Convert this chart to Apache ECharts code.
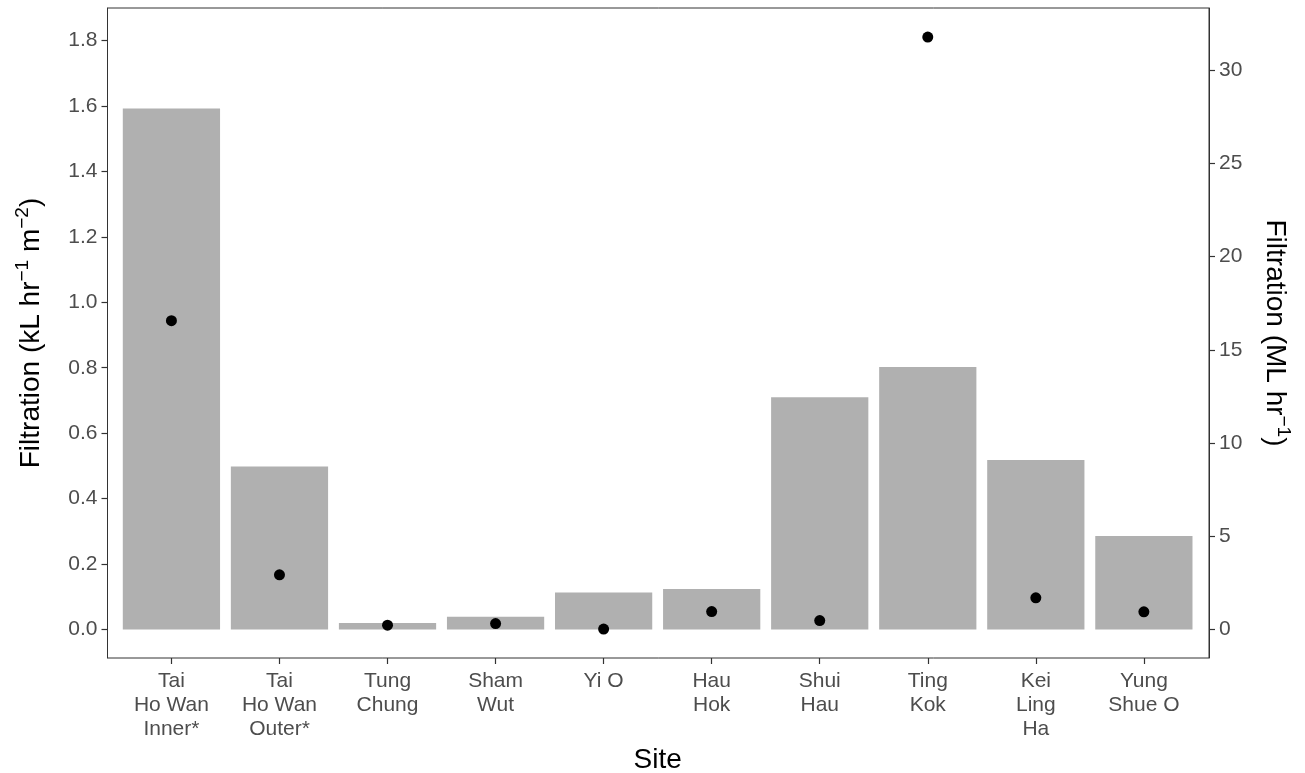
<!DOCTYPE html>
<html>
<head>
<meta charset="utf-8">
<title>Filtration by site</title>
<script src="https://cdn.jsdelivr.net/npm/echarts@6/dist/echarts.min.js"></script>
<style>
  html, body { margin: 0; padding: 0; background: #ffffff; }
  #chart { width: 1305px; height: 773px; }
</style>
</head>
<body>
<div id="chart"></div>
<script>
// Sites along the x axis (line breaks as printed under each tick)
const sites = [
  'Tai\nHo Wan\nInner*', 'Tai\nHo Wan\nOuter*', 'Tung\nChung', 'Sham\nWut', 'Yi O',
  'Hau\nHok', 'Shui\nHau', 'Ting\nKok', 'Kei\nLing\nHa', 'Yung\nShue O'
];
// Area-specific filtration, kL hr^-1 m^-2 (bars, left axis)
const areaFiltration = [1.592, 0.498, 0.020, 0.039, 0.113, 0.124, 0.710, 0.802, 0.518, 0.286];
// Total filtration, ML hr^-1 (points, right axis)
const totalFiltration = [16.56, 2.93, 0.23, 0.32, 0.02, 0.96, 0.48, 31.77, 1.70, 0.95];
// Tick labels
const leftTicks = [0, 0.2, 0.4, 0.6, 0.8, 1.0, 1.2, 1.4, 1.6, 1.8];
const rightTicks = [0, 5, 10, 15, 20, 25, 30];

// Secondary axis is a fixed multiple of the primary one
const SCALE = 17.55;
const leftMin = -0.0871, leftMax = 1.8992;

const FONT = "'Liberation Sans', Arial, Helvetica, sans-serif";
const tickColor = '#4d4d4d';
const lineColor = '#333333';

const chart = echarts.init(document.getElementById('chart'), null, { renderer: 'canvas' });

const supRich = {
  t: { fontSize: 28, lineHeight: 36, color: '#000', fontFamily: FONT, verticalAlign: 'middle' },
  s: { fontSize: 19, lineHeight: 19, color: '#000', fontFamily: FONT, verticalAlign: 'top' }
};

chart.setOption({
  animation: false,
  backgroundColor: '#ffffff',
  textStyle: { fontFamily: FONT },
  grid: [
    // panel frame
    { left: 107.5, top: 8, width: 1101.5, height: 650, show: true, containLabel: false,
      outerBoundsMode: 'none',
      borderColor: lineColor, borderWidth: 1, backgroundColor: 'transparent', z: 10 },
    // data area: categories padded by 0.6 of a band on each side
    { left: 117.4, top: 8, width: 1080.5, height: 650, containLabel: false, outerBoundsMode: 'none' }
  ],
  xAxis: [
    { gridIndex: 0, type: 'value', min: 0, max: 1, show: false },
    {
      gridIndex: 1, type: 'category', data: sites, boundaryGap: true, position: 'bottom',
      axisLine: { show: false, onZero: false },
      axisTick: { show: true, alignWithLabel: true, length: 6, lineStyle: { color: lineColor, width: 1.2 } },
      axisLabel: { interval: 0, fontSize: 21, lineHeight: 24.2, color: tickColor, margin: 11, fontFamily: FONT },
      name: 'Site', nameLocation: 'middle', nameGap: 86,
      nameTextStyle: { fontSize: 28, color: '#000', fontFamily: FONT }
    }
  ],
  yAxis: [
    { gridIndex: 0, type: 'value', min: 0, max: 1, show: false },
    {
      gridIndex: 1, type: 'value', position: 'left', offset: 9.9,
      min: leftMin, max: leftMax,
      axisLine: { show: true, lineStyle: { color: lineColor, width: 1 } },
      axisTick: { show: true, length: 6, customValues: leftTicks, lineStyle: { color: lineColor, width: 1.2 } },
      axisLabel: { customValues: leftTicks, fontSize: 21, color: tickColor, margin: 10, fontFamily: FONT,
                   formatter: v => v.toFixed(1) },
      splitLine: { show: false },
      name: '{t|Filtration (kL hr}{s|−1}{t| m}{s|−2}{t|)}',
      nameLocation: 'middle', nameRotate: 90, nameGap: 58,
      nameTextStyle: { rich: supRich }
    },
    {
      gridIndex: 1, type: 'value', position: 'right', offset: 11.1,
      min: leftMin * SCALE, max: leftMax * SCALE,
      axisLine: { show: true, lineStyle: { color: lineColor, width: 1 } },
      axisTick: { show: true, length: 6, customValues: rightTicks, lineStyle: { color: lineColor, width: 1.2 } },
      axisLabel: { customValues: rightTicks, fontSize: 21, color: tickColor, margin: 10, fontFamily: FONT },
      splitLine: { show: false },
      name: '{t|Filtration (ML hr}{s|−1}{t|)}',
      nameLocation: 'middle', nameRotate: -90, nameGap: 48,
      nameTextStyle: { rich: supRich }
    }
  ],
  series: [
    {
      name: 'Area filtration', type: 'bar', xAxisIndex: 1, yAxisIndex: 1,
      data: areaFiltration, barWidth: '90%',
      itemStyle: { color: '#b0b0b0' }
    },
    {
      name: 'Total filtration', type: 'scatter', xAxisIndex: 1, yAxisIndex: 2,
      data: totalFiltration, symbol: 'circle', symbolSize: 11,
      itemStyle: { color: '#000000', opacity: 1 }, z: 5
    }
  ]
});
</script>
</body>
</html>
